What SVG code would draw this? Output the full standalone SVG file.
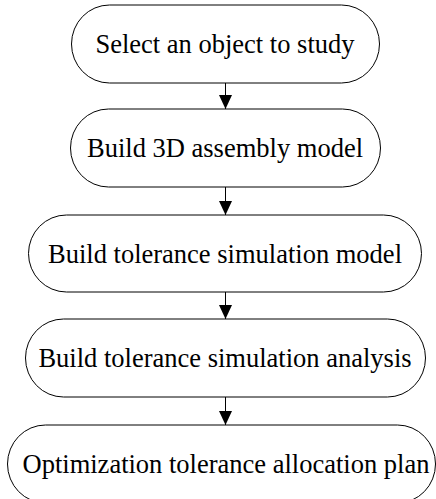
<svg xmlns="http://www.w3.org/2000/svg" width="436" height="499" viewBox="0 0 436 499">
  <style>
    .box { fill: #ffffff; stroke: #000000; stroke-width: 1; }
    .label { font-size: 26.5px; fill: #000000; text-anchor: middle; }
    .edge { stroke: #000000; stroke-width: 1; fill: none; marker-end: url(#arrow); }
  </style>
  <defs>
    <marker id="arrow" markerWidth="14" markerHeight="13" refX="14" refY="6.5" orient="auto" markerUnits="userSpaceOnUse">
      <path d="M0,0 L14,6.5 L0,13 Z" fill="#000000"/>
    </marker>
  </defs>
  <rect width="436" height="499" fill="#ffffff"/>

  <g id="connectors">
    <line class="edge" x1="225.5" y1="83" x2="225.5" y2="109"/>
    <line class="edge" x1="225.5" y1="187" x2="225.5" y2="215"/>
    <line class="edge" x1="225.5" y1="292" x2="225.5" y2="319"/>
    <line class="edge" x1="225.5" y1="397" x2="225.5" y2="425"/>
  </g>

  <g font-family="'Liberation Serif', 'DejaVu Serif', serif">
    <g id="select-object">
      <rect class="box" x="71.5" y="5" width="308" height="78" rx="38" ry="39"/>
      <text class="label" x="225" y="53">Select an object to study</text>
    </g>

    <g id="build-assembly">
      <rect class="box" x="70.5" y="109" width="310" height="78" rx="38" ry="39"/>
      <text class="label" x="225" y="157">Build 3D assembly model</text>
    </g>

    <g id="build-simulation-model">
      <rect class="box" x="28.5" y="215" width="393" height="77" rx="38" ry="38.5"/>
      <text class="label" x="225" y="262.5">Build tolerance simulation model</text>
    </g>

    <g id="build-simulation-analysis">
      <rect class="box" x="25.5" y="319" width="400" height="78" rx="38" ry="39"/>
      <text class="label" x="225" y="367">Build tolerance simulation analysis</text>
    </g>

    <g id="optimization-plan">
      <rect class="box" x="7.5" y="425" width="428" height="78" rx="38" ry="39"/>
      <text class="label" x="226" y="473">Optimization tolerance allocation plan</text>
    </g>
  </g>
</svg>
